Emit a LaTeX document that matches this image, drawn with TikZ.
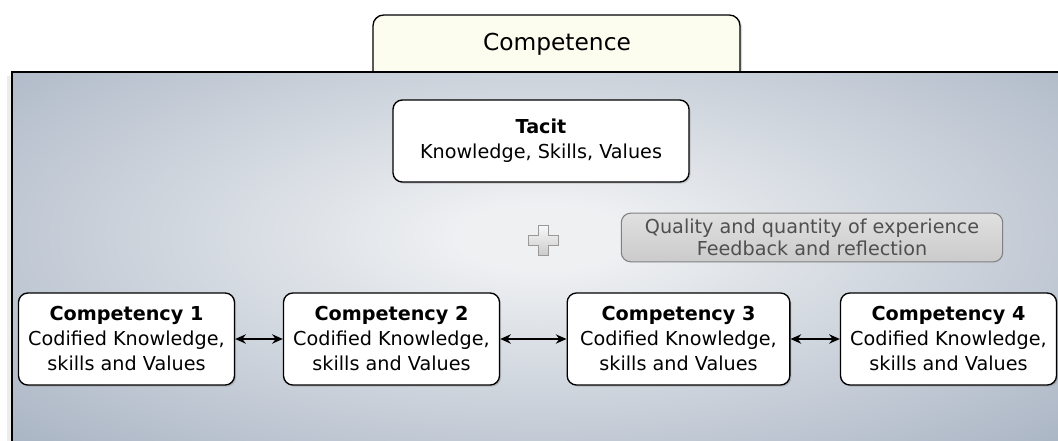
\documentclass[tikz,border=0pt]{standalone}
\usepackage{fontspec}
\setmainfont{DejaVu Sans}
\usetikzlibrary{arrows.meta,positioning,shadows}

\definecolor{tabfill}{HTML}{FCFCEF}
\definecolor{paneledge}{HTML}{8595AC}
\definecolor{panelmid}{HTML}{EEF0F2}
\definecolor{hintfill}{HTML}{CBCBCB}
\definecolor{hinttext}{HTML}{4F4F4F}
\pgfdeclareradialshading{panelglow}{\pgfpoint{0bp}{0bp}}{color(0bp)=(panelmid); color(4bp)=(panelmid); color(52bp)=(paneledge); color(72bp)=(paneledge)}

\begin{document}
\begin{tikzpicture}[x=0.75pt,y=-0.75pt]
\tikzset{
  box/.style={draw, line width=1pt, fill=white, rounded corners=7pt, align=center,
    minimum width=162pt, minimum height=69pt, inner sep=2pt,
    font=\fontsize{14.4}{18.75}\selectfont,
    drop shadow={shadow xshift=1.2pt, shadow yshift=-1.2pt, opacity=0.35}},
  hint/.style={draw=gray, line width=0.8pt, top color=hintfill!60, bottom color=hintfill,
    rounded corners=7pt, align=center,
    minimum width=286pt, minimum height=36.5pt, inner sep=1pt, text=hinttext,
    font=\fontsize{14.4}{17}\selectfont},
  link/.style={{Stealth[length=8pt,width=7pt]}-{Stealth[length=8pt,width=7pt]}, line width=1.1pt}
}
\useasboundingbox (0,0) rectangle (1058,440);

% tab on top
\draw[line width=1pt, fill=tabfill, rounded corners=8pt,
  drop shadow={shadow xshift=1.5pt, shadow yshift=-1pt, opacity=0.3}]
  (373,80) -- (373,15) -- (740,15) -- (740,80);
\node[font=\fontsize{17.5}{20}\selectfont] (tab) at (557,44) {Competence};

% panel
\fill[black!15, opacity=0.5] (7,76) rectangle (1070,450);
\begin{scope}
  \clip (12,72) rectangle (1070,450);
  \shade[shading=panelglow] (12,28) rectangle (1070,446);
\end{scope}
\draw[line width=1.3pt] (1070,72) -- (12,72) -- (12,450);

\node[box, minimum width=222pt, minimum height=61.5pt] (tacit) at (541,141)
  {\textbf{Tacit}\\Knowledge, Skills, Values};

% plus sign
\draw[gray!80, line width=0.6pt, top color=white!95!gray, bottom color=gray!40]
  (538,225) -- (548,225) -- (548,235) -- (558,235) -- (558,245) -- (548,245)
  -- (548,255) -- (538,255) -- (538,245) -- (528,245) -- (528,235) -- (538,235) -- cycle;

\node[hint] (exp) at (812,237.5)
  {Quality and quantity of experience\\Feedback and reflection};

\node[box] (c1) at (126.5,339) {\textbf{Competency 1}\\Codified Knowledge,\\skills and Values};
\node[box] (c2) at (391.5,339) {\textbf{Competency 2}\\Codified Knowledge,\\skills and Values};
\node[box, minimum width=167pt] (c3) at (678.5,339) {\textbf{Competency 3}\\Codified Knowledge,\\skills and Values};
\node[box] (c4) at (948.5,339) {\textbf{Competency 4}\\Codified Knowledge,\\skills and Values};

\draw[link] (c1) -- (c2);
\draw[link] (c2) -- (c3);
\draw[link] (c3) -- (c4);
\end{tikzpicture}
\end{document}
